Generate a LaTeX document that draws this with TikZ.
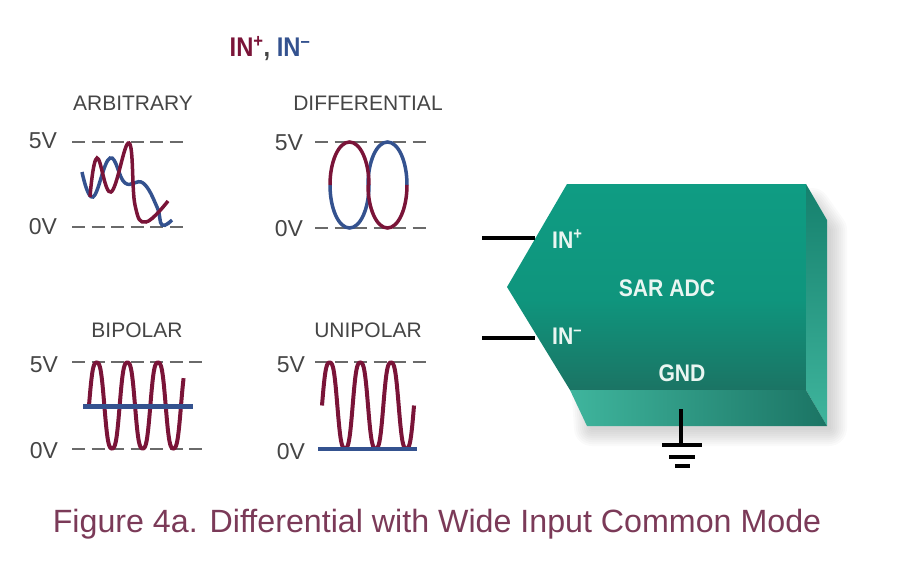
\documentclass[tikz,border=0pt]{standalone}
\usepackage{fontspec}
\setmainfont{Liberation Sans}
\newfontfamily\pinfont[FakeStretch=0.88]{Liberation Sans Bold}
\usetikzlibrary{positioning}
\definecolor{posred}{HTML}{7A1438}
\definecolor{negblue}{HTML}{34528F}
\definecolor{labelgray}{HTML}{454545}
\definecolor{captionred}{HTML}{7B3A58}
\definecolor{adctop}{HTML}{0F9C83}
\definecolor{adcmid}{HTML}{0F957D}
\definecolor{adcbot}{HTML}{1B7464}
\definecolor{adcside}{HTML}{15806D}
\definecolor{adcsidemid}{HTML}{1FA28A}
\definecolor{adclight}{HTML}{3FB59D}
\definecolor{labelwhite}{HTML}{EAF6F2}
\pgfdeclareverticalshading{adcfront}{100bp}{color(0bp)=(adcbot); color(25bp)=(adcbot); color(47bp)=(adcmid); color(75bp)=(adctop); color(100bp)=(adctop)}
\begin{document}
\begin{tikzpicture}[x=1pt, y=-1pt,
	title/.style={text=labelgray, inner sep=0pt, font=\fontsize{21}{21}\selectfont},
	volt/.style={text=labelgray, inner sep=0pt, font=\fontsize{23}{23}\selectfont},
	pin/.style={text=labelwhite, inner sep=0pt, font=\pinfont\fontsize{24}{24}\selectfont},
	level/.style={draw=labelgray!80, line width=1.6pt, dash pattern=on 13pt off 6.5pt},
	posline/.style={draw=posred, line width=3.5pt},
	negline/.style={draw=negblue, line width=3.5pt},
	wire/.style={draw=black, line width=3.5pt}]
	\useasboundingbox (0,0) rectangle (900,568);

	\node[inner sep=0pt, font=\pinfont\fontsize{27}{27}\selectfont] (legend) at (270,49)
		{\textcolor{posred}{IN\textsuperscript{+}}\textcolor{labelgray}{,} \textcolor{negblue}{IN\textsuperscript{–}}};

	\node[title] (arb) at (133,103) {ARBITRARY};
	\node[volt] (arb5) at (43,141) {5V};
	\node[volt] (arb0) at (43,227) {0V};
	\draw[level] (72,142) -- (188,142);
	\draw[level] (72,227) -- (188,227);
	\draw[negline] plot[smooth, tension=0.7] coordinates {(82,172) (93,197) (110,158) (125,183) (143,183) (157,207) (162,225) (172,220)};
	\draw[posline] plot[smooth, tension=0.7] coordinates {(90,197) (97,158) (111,192) (129,143) (135,205) (146,222) (168,201)};

	\node[title] (dif) at (368,103) {DIFFERENTIAL};
	\node[volt] (dif5) at (289,143) {5V};
	\node[volt] (dif0) at (289,229) {0V};
	\draw[level] (315,142) -- (432,142);
	\draw[level] (315,228) -- (432,228);
	\draw[negline] (330,185) arc[start angle=180, end angle=360, x radius=19.5pt, y radius=43pt];
	\draw[negline] (368,185) arc[start angle=180, end angle=0, x radius=19.5pt, y radius=43pt];
	\draw[posline] (330,185) arc[start angle=180, end angle=0, x radius=19.5pt, y radius=43pt];
	\draw[posline] (368,185) arc[start angle=180, end angle=360, x radius=19.5pt, y radius=43pt];

	\node[title] (bip) at (137,330) {BIPOLAR};
	\node[volt] (bip5) at (44,365) {5V};
	\node[volt] (bip0) at (44,451) {0V};
	\draw[level] (72,362) -- (203,362);
	\draw[level] (72,449) -- (203,449);
	\draw[posline, line width=4pt] plot[domain=0:1110, samples=150] ({89+\x*0.0852}, {405.5-46.9*sin(\x)-3.9*sin(3*\x)});
	\draw[negline, line width=5pt] (83,406) -- (193,406);

	\node[title] (uni) at (368,330) {UNIPOLAR};
	\node[volt] (uni5) at (291,365) {5V};
	\node[volt] (uni0) at (291,452) {0V};
	\draw[level] (315,362) -- (432,362);
	\draw[posline, line width=4pt] plot[domain=0:1080, samples=150] ({322+\x*0.0852}, {405.5-46.9*sin(\x)-3.9*sin(3*\x)});
	\draw[negline, line width=4.5pt] (318,449) -- (417,449);

	\foreach \w in {4,8,...,36}
		\draw[black, opacity=0.018, line width=\w pt, line join=round]
			(578,206) -- (812,206) -- (829,230) -- (829,428) -- (592,428) -- cycle;

	\shade[shading=adcfront]
		(567,184) -- (806,184) -- (806,390) -- (570,390) -- (507,287) -- cycle;
	\shade[top color=adcside, middle color=adcsidemid, bottom color=adclight]
		(806,184) -- (827,220) -- (827,426) -- (806,390) -- cycle;
	\shade[left color=adclight, middle color=adctop, right color=adcbot]
		(570,390) -- (806,390) -- (827,426) -- (587,426) -- cycle;

	\coordinate (inpedge) at (535,238);
	\coordinate (innedge) at (535,338);
	\coordinate (inpend) at (482,238);
	\coordinate (innend) at (482,338);
	\coordinate (gndtop) at (681,409);
	\coordinate (gndbar) at (681,445);
	\draw[wire] (inpend) -- (inpedge);
	\draw[wire, line width=4.5pt] (innend) -- (innedge);
	\draw[wire, line width=4pt] (gndtop) -- (gndbar);
	\draw[wire, line width=4.5pt] (662,445) -- (702,445);
	\draw[wire, line width=4.5pt] (669,457) -- (695,457);
	\draw[wire] (675,466) -- (690,466);

	\node[pin, anchor=west] (inp) at (552,239) {IN\textsuperscript{+}};
	\node[pin, anchor=west] (inn) at (552,336) {IN\textsuperscript{–}};
	\node[pin] (adc) at (667,288) {SAR ADC};
	\node[pin] (gnd) at (682,373) {GND};

	\node[text=captionred, inner sep=0pt, font=\fontsize{32.2}{32.2}\selectfont] (caption) at (437,524)
		{Figure 4a. Differential with Wide Input Common Mode};
\end{tikzpicture}
\end{document}
